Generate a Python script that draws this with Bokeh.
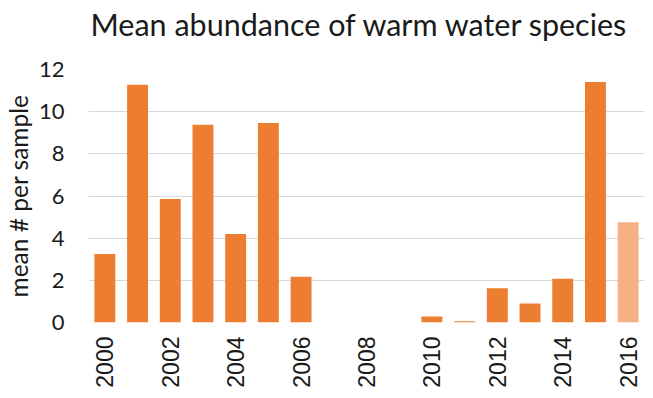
import math
from bokeh.plotting import figure
from bokeh.models import ColumnDataSource, FixedTicker, Range1d, Title
from bokeh.embed import file_html
from bokeh.resources import INLINE

title_text = "Mean abundance of warm water species"
y_label = "mean # per sample"
years = list(range(2000, 2017))
abundance = [3.25, 11.28, 5.86, 9.38, 4.2, 9.46, 2.17, 0, 0, 0,
             0.29, 0.06, 1.63, 0.9, 2.07, 11.41, 4.75]
provisional = [False] * 16 + [True]
tick_years = [2000, 2002, 2004, 2006, 2008, 2010, 2012, 2014, 2016]
y_ticks = [0, 2, 4, 6, 8, 10, 12]

colors = ["#F4B183" if p else "#ED7D31" for p in provisional]
src = ColumnDataSource(dict(year=years, value=abundance, color=colors))

p = figure(width=645, height=390, output_backend="svg", toolbar_location=None,
           x_range=Range1d(1999.5, 2016.5), y_range=Range1d(0, 12),
           min_border_left=83, min_border_right=1, min_border_top=68,
           min_border_bottom=60, title=title_text)
p.vbar(x="year", top="value", width=0.64, fill_color="color", line_color=None,
       source=src)

p.title.text_font = "Lato"
p.title.text_font_size = "30.5px"
p.title.text_font_style = "normal"
p.title.text_color = "#1a1a1a"
p.title.align = "left"
p.title.offset = 2
p.title.standoff = 6

# blank spacer between the title and the plot frame
p.add_layout(Title(text=" ", text_font_size="2px", standoff=21), "above")

p.outline_line_color = None
p.xgrid.grid_line_color = None
p.ygrid.grid_line_color = "#d9d9d9"
p.ygrid.ticker = FixedTicker(ticks=y_ticks)

p.yaxis.ticker = FixedTicker(ticks=y_ticks)
p.yaxis.axis_label = y_label
p.yaxis.axis_label_text_font = "Lato"
p.yaxis.axis_label_text_font_size = "24.5px"
p.yaxis.axis_label_text_font_style = "normal"
p.yaxis.axis_label_text_color = "#1a1a1a"
p.yaxis.axis_label_standoff = 3
p.yaxis.major_label_text_font = "Lato"
p.yaxis.major_label_text_font_size = "22px"
p.yaxis.major_label_text_color = "#1a1a1a"
p.yaxis.major_label_standoff = 24

p.xaxis.ticker = FixedTicker(ticks=tick_years)
p.xaxis.major_label_orientation = math.pi / 2
p.xaxis.major_label_text_font = "Liberation Sans"
p.xaxis.major_label_text_font_size = "23px"
p.xaxis.major_label_text_color = "#1a1a1a"
p.xaxis.major_label_standoff = 14

for ax in (p.xaxis, p.yaxis):
    ax.axis_line_color = None
    ax.major_tick_line_color = None
    ax.minor_tick_line_color = None
    ax.major_tick_out = 0
    ax.major_tick_in = 0
    ax.minor_tick_out = 0
    ax.minor_tick_in = 0

open("out.html", "w").write(file_html(p, INLINE))
